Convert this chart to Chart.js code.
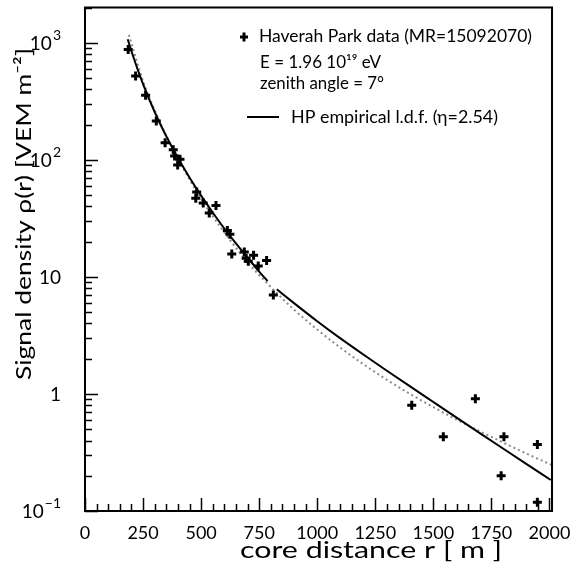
<!DOCTYPE html>
<html><head><meta charset="utf-8">
<script src="https://cdn.jsdelivr.net/npm/chart.js@4/dist/chart.umd.min.js"></script>
<style>html,body{margin:0;padding:0;background:#fff}</style>
</head><body>
<canvas id="c" width="584" height="568"></canvas>
<script>
// Haverah Park measured densities (core distance r [m], density [VEM m^-2])
const dataR   = [186,218,261,307,345,380,386,409,399,481,477,509,564,535,613,624,632,686,694,703,726,746,782,811,1407,1543,1681,1804,1792,1948,1948];
const dataRho = [877,520,356,215,140,122,108,101,90.5,53,47,42.7,40.8,35.1,24.9,23.1,15.7,16.3,14.4,13.6,15.3,12.4,13.8,7.0,0.80,0.43,0.91,0.43,0.20,0.37,0.119];
// HP empirical l.d.f., inner part (r < 800 m)
const hpInnerR   = [184,200,250,300,350,400,450,500,550,600,650,700,750,786];
const hpInnerRho = [1072,845,443,256,159,104,70.6,49.4,35.5,25.9,19.3,14.6,11.1,9.2];
// HP empirical l.d.f., outer part (r > 800 m)
const hpOuterR   = [826,900,1000,1100,1200,1300,1400,1500,1600,1700,1800,1900,2006];
const hpOuterRho = [7.83,5.97,4.18,2.98,2.16,1.578,1.159,0.853,0.628,0.463,0.342,0.253,0.184];
// second (dotted) fit
const altR   = [189,250,300,350,400,500,600,700,789,900,1000,1100,1200,1300,1400,1500,1600,1700,1800,1900,2010];
const altRho = [1167,470,265,160,102,46.5,24,13.3,8.63,5.25,3.55,2.48,1.786,1.321,1.0,0.771,0.604,0.480,0.385,0.310,0.247];
// axis ticks
const xTicks = [0,250,500,750,1000,1250,1500,1750,2000];
const xTickLabels = ['0','250','500','750','1000','1250','1500','1750','2000'];
const yTicks = [0.1,1,10,100,1000];
const yTickBase = ['10','1','10','10','10'];
const yTickExp  = ['\u22121','','','2','3'];
// texts
const xTitle = 'core distance r [ m ]';
const yTitle = 'Signal density \u03C1(r) [VEM m\u207B\u00B2]';
const legendLines = ['Haverah Park data (MR=15092070)','E = 1.96 10\u00B9\u2079 eV','zenith angle = 7\u00B0','HP empirical l.d.f. (\u03B7=2.54)'];

const FONT = 'Lato, "DejaVu Sans", sans-serif';
const xy = (xs, ys) => xs.map((x,i)=>({x:x,y:ys[i]}));

// draw text of a given font size, stretched horizontally to a target width
function stretchText(ctx, text, x, y, size, width){
  ctx.font = size + 'px ' + FONT;
  const w = ctx.measureText(text).width;
  ctx.save();
  ctx.translate(x, y);
  ctx.scale(width / w, 1);
  ctx.fillText(text, 0, 0);
  ctx.restore();
}

const decor = {
  id:'decor',
  afterDraw(chart){
    const ctx = chart.ctx, a = chart.chartArea;
    const xs = chart.scales.x, ys = chart.scales.y;
    ctx.save();
    ctx.strokeStyle = '#000';
    ctx.lineWidth = 1.5;
    ctx.beginPath();
    for (let v = 0; v <= 2000; v += 50){
      const px = Math.round(xs.getPixelForValue(v)) + 0.5;
      const len = (v % 250 === 0) ? 13 : 7;
      ctx.moveTo(px, a.bottom); ctx.lineTo(px, a.bottom - len);
    }
    for (let e = -1; e <= 3; e++){
      for (let k = 1; k <= 9; k++){
        const v = k * Math.pow(10, e);
        if (v < 0.1 || v > 2000) continue;
        const py = Math.round(ys.getPixelForValue(v)) + 0.5;
        const len = (k === 1) ? 13 : 7;
        ctx.moveTo(a.left, py); ctx.lineTo(a.left + len, py);
      }
    }
    ctx.stroke();
    ctx.lineWidth = 2;
    ctx.strokeRect(a.left, a.top, a.right - a.left, a.bottom - a.top);

    ctx.fillStyle = '#000';
    // y tick labels (mantissa + raised exponent), placed by the log scale
    ctx.textBaseline = 'alphabetic'; ctx.textAlign = 'left';
    yTicks.forEach((v, i) => {
      const py = ys.getPixelForValue(v);
      ctx.font = '19px ' + FONT;
      const wb = ctx.measureText(yTickBase[i]).width;
      ctx.font = '14px ' + FONT;
      const we = yTickExp[i] ? ctx.measureText(yTickExp[i]).width + 1 : 0;
      const x0 = 61 - wb - we;
      ctx.font = '19px ' + FONT;
      ctx.fillText(yTickBase[i], x0, py + 7);
      if (yTickExp[i]){
        ctx.font = '14px ' + FONT;
        ctx.fillText(yTickExp[i], x0 + wb + 1, py - 3);
      }
    });

    // axis titles
    ctx.textBaseline = 'middle';
    stretchText(ctx, xTitle, 240, 550, 24, 262);
    ctx.save();
    ctx.translate(24, 380);
    ctx.rotate(-Math.PI/2);
    stretchText(ctx, yTitle, 0, 0, 22, 332);
    ctx.restore();

    // legend
    stretchText(ctx, legendLines[0], 259, 37, 16.5, 273);
    stretchText(ctx, legendLines[1], 260, 63, 16.5, 121);
    stretchText(ctx, legendLines[2], 260, 84, 16.5, 124);
    stretchText(ctx, legendLines[3], 291, 118, 16.5, 207);
    ctx.lineWidth = 3;
    ctx.beginPath();
    ctx.moveTo(240, 37); ctx.lineTo(248, 37);
    ctx.moveTo(244, 32.5); ctx.lineTo(244, 41.5);
    ctx.stroke();
    ctx.lineWidth = 2;
    ctx.beginPath();
    ctx.moveTo(247, 117); ctx.lineTo(279, 117);
    ctx.stroke();
    ctx.restore();
  }
};

new Chart(document.getElementById('c'), {
  type: 'scatter',
  data: {
    datasets: [
      { label:'Haverah Park data', data: xy(dataR, dataRho), pointStyle:'cross',
        pointRadius:4.5, pointBorderWidth:3, borderColor:'#000', backgroundColor:'#000', showLine:false },
      { label:'HP l.d.f. inner', data: xy(hpInnerR, hpInnerRho), showLine:true, pointRadius:0,
        borderColor:'#000', borderWidth:2, cubicInterpolationMode:'monotone' },
      { label:'HP l.d.f. outer', data: xy(hpOuterR, hpOuterRho), showLine:true, pointRadius:0,
        borderColor:'#000', borderWidth:2, cubicInterpolationMode:'monotone' },
      { label:'fit', data: xy(altR, altRho), showLine:true, pointRadius:0,
        borderColor:'#8a8a8a', borderWidth:2, borderDash:[2,3], cubicInterpolationMode:'monotone' }
    ]
  },
  options: {
    responsive:false, animation:false, devicePixelRatio:1,
    layout:{ padding:{ left:0, top:5, right:32, bottom:0 } },
    plugins:{ legend:{display:false}, tooltip:{enabled:false} },
    scales:{
      x:{ type:'linear', min:0, max:2011,
          grid:{display:false}, border:{display:false},
          afterBuildTicks(s){ s.ticks = xTicks.map(v=>({value:v})); },
          afterFit(s){ s.height = 57; s.paddingLeft = 0; s.paddingRight = 0; },
          ticks:{ color:'#000', padding:3, maxRotation:0, autoSkip:false,
                  font:{family:'Lato', size:18},
                  callback:(v)=>{ const i = xTicks.indexOf(v); return i>=0 ? xTickLabels[i] : ''; } } },
      y:{ type:'logarithmic', min:0.1, max:2000,
          grid:{display:false}, border:{display:false},
          afterBuildTicks(s){ s.ticks = yTicks.map(v=>({value:v})); },
          afterFit(s){ s.width = 85; s.paddingTop = 0; s.paddingBottom = 0; },
          ticks:{ display:false } }
    }
  },
  plugins:[decor]
});
</script>
</body></html>
